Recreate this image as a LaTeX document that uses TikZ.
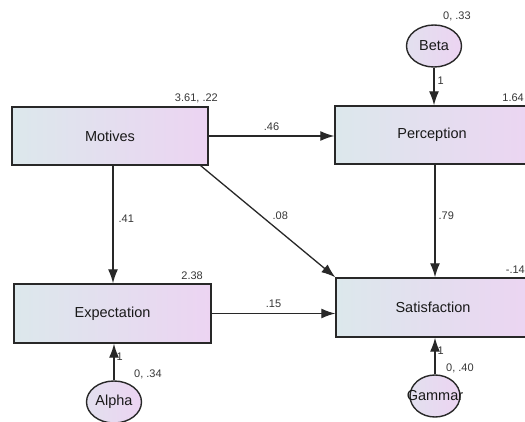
\documentclass[tikz,border=0pt]{standalone}
\usepackage{fontspec}
\setmainfont{Liberation Sans}
\usetikzlibrary{arrows.meta,shapes.geometric}
\definecolor{boxleft}{RGB}{220,232,236}
\definecolor{boxright}{RGB}{236,212,242}
\definecolor{edge}{RGB}{40,40,40}
\definecolor{labtext}{RGB}{55,55,55}
\tikzset{
  varbox/.style={draw=edge, line width=1.4pt, rectangle, left color=boxleft, right color=boxright,
    inner sep=0pt, font=\fontsize{14.5}{16}\selectfont, text=black!90},
  errcirc/.style={draw=edge, line width=1.4pt, ellipse, left color=boxleft!60!boxright, right color=boxright,
    inner sep=0pt, minimum width=55pt, minimum height=42pt},
  circtext/.style={font=\fontsize{14.5}{16}\selectfont, text=black!90, inner sep=0pt},
  lab/.style={font=\fontsize{11}{13}\selectfont, text=labtext, inner sep=0pt},
  arr/.style={draw=edge, line width=1.3pt, -{Latex[length=14pt,width=10pt]}}
}
\begin{document}
\begin{tikzpicture}[x=1pt,y=-1pt]
\useasboundingbox (0,0) rectangle (525,422);
\clip (0,0) rectangle (525,422);
\fill[white] (0,0) rectangle (525,422);

% boxes
\node[varbox, minimum width=196pt, minimum height=58pt] (Motives) at (110,136) {Motives};
\node[varbox, minimum width=200pt, minimum height=58pt] (Perception) at (435,135) {};
\node[circtext] (PerceptionText) at (432,135) {Perception};
\node[varbox, minimum width=197pt, minimum height=59pt] (Expectation) at (112.5,313.5) {Expectation};
\node[varbox, minimum width=198pt, minimum height=59pt] (Satisfaction) at (435,307.5) {};
\node[circtext] (SatisfactionText) at (433,307.5) {Satisfaction};

% error terms
\node[errcirc] (Beta) at (434,46) {};
\node[circtext] (BetaText) at (Beta) {Beta};
\node[errcirc] (Alpha) at (114,402) {};
\node[circtext] (AlphaText) at (Alpha) {Alpha};
\node[errcirc, minimum width=50pt] (Gammar) at (435,396) {};
\node[circtext] (GammarText) at (Gammar) {Gammar};

% value labels
\node[lab, anchor=south east] (mv) at (218,103) {3.61, .22};
\node[lab, anchor=south east] (pv) at (524,102) {1.64};
\node[lab, anchor=south east] (ev) at (203,280) {2.38};
\node[lab, anchor=south east] (sv) at (525,274) {-.14};
\node[lab, anchor=south west] (bv) at (443,21) {0, .33};
\node[lab, anchor=west] (av) at (134,374) {0, .34};
\node[lab, anchor=west] (gv) at (446,368) {0, .40};

% paths
\draw[arr] (Motives.east) -- (Motives.east -| Perception.west)
  node[lab, midway, above=5pt] (l46) {.46};
\draw[arr] ([xshift=3pt]Motives.south) -- ([xshift=3pt]Motives.south |- Expectation.north)
  node[lab, pos=0.45, right=5pt] (l41) {.41};
\draw[arr] ([xshift=-8pt]Motives.south east) -- (Satisfaction.north west)
  node[lab, pos=0.5, anchor=south west, xshift=4pt, yshift=1pt] (l08) {.08};
\draw[arr] (Perception.south) -- (Perception.south |- Satisfaction.north)
  node[lab, pos=0.45, right=3pt] (l79) {.79};
\draw[arr] (Expectation.east) -- (Expectation.east -| Satisfaction.west)
  node[lab, midway, above=5pt] (l15) {.15};
\draw[arr] (Beta.south) -- (Beta.south |- Perception.north)
  node[lab, pos=0.35, right=3pt] (b1) {1};
\draw[arr] (Alpha.north) -- (Alpha.north |- Expectation.south)
  node[lab, pos=0.65, right=2pt] (a1) {1};
\draw[arr] (Gammar.north) -- (Gammar.north |- Satisfaction.south)
  node[lab, pos=0.65, right=2pt] (g1) {1};
\end{tikzpicture}
\end{document}
